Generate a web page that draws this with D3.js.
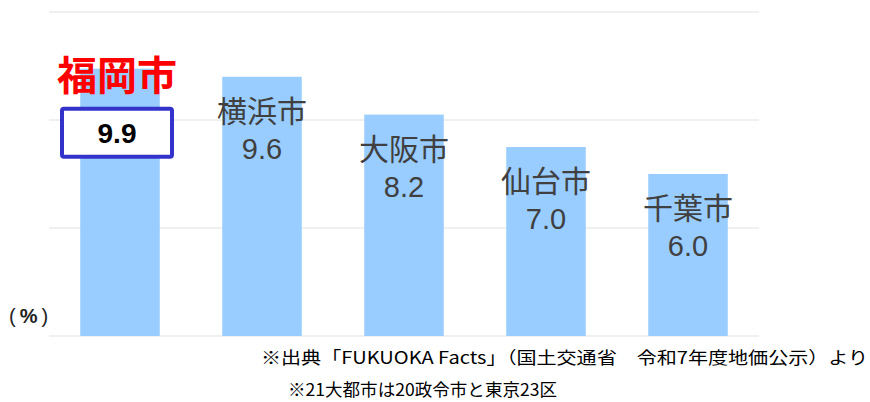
<!DOCTYPE html>
<html>
<head>
<meta charset="utf-8">
<script src="https://cdn.jsdelivr.net/npm/d3@7"></script>
<style>
  body { margin: 0; background: #fff; }
  text { font-family: "Noto Sans CJK JP", "Noto Sans", sans-serif; }
</style>
</head>
<body>
<script>
var w = 870,
  h = 402;

var cities = ['福岡市', '横浜市', '大阪市', '仙台市', '千葉市'];
var values = [9.9, 9.6, 8.2, 7.0, 6.0];
var gridTicks = [0, 4, 8, 12];
var notes = [
  '※出典「FUKUOKA Facts」（国土交通省　令和7年度地価公示）より',
  '※21大都市は20政令市と東京23区'
];

var svg = d3.select('body').append('svg')
  .attr('width', w)
  .attr('height', h);

var x = d3.scaleBand()
  .domain(cities)
  .range([49, 759])
  .paddingInner(0.44)
  .paddingOuter(0.22);

var y = d3.scaleLinear()
  .domain([0, 12])
  .range([336, 12]);

// gridlines
svg.selectAll('line.grid')
  .data(gridTicks)
  .enter()
  .append('line')
  .attr('class', 'grid')
  .attr('x1', 49)
  .attr('x2', 759)
  .attr('y1', function (d) { return y(d); })
  .attr('y2', function (d) { return y(d); })
  .attr('stroke', '#ebebeb')
  .attr('stroke-width', 1.5);

// bars
svg.selectAll('rect.bar')
  .data(values)
  .enter()
  .append('rect')
  .attr('class', 'bar')
  .attr('x', function (d, i) { return x(cities[i]); })
  .attr('y', function (d) { return y(d); })
  .attr('width', x.bandwidth())
  .attr('height', function (d) { return y(0) - y(d); })
  .attr('fill', '#99ccff');

// labels for the other cities
var others = cities.slice(1);
var labels = svg.selectAll('g.lab')
  .data(others)
  .enter()
  .append('g')
  .attr('class', 'lab')
  .attr('transform', function (d, i) {
    return 'translate(' + (x(d) + x.bandwidth() / 2) + ',' + y(values[i + 1]) + ')';
  });

labels.append('text')
  .attr('text-anchor', 'middle')
  .attr('y', 45)
  .attr('font-size', 30)
  .attr('fill', '#404040')
  .text(function (d) { return d; });

labels.append('text')
  .attr('text-anchor', 'middle')
  .attr('y', 82)
  .attr('font-size', 29)
  .attr('fill', '#404040')
  .style('font-family', 'Arial, "Liberation Sans", sans-serif')
  .text(function (d, i) { return values[i + 1].toFixed(1); });

// highlighted Fukuoka
var cx = x(cities[0]) + x.bandwidth() / 2 - 3;
var fy = y(values[0]);

svg.append('text')
  .attr('x', cx)
  .attr('y', fy + 21)
  .attr('text-anchor', 'middle')
  .attr('font-size', 40)
  .attr('font-weight', 'bold')
  .attr('fill', '#ff0000')
  .text(cities[0]);

svg.append('rect')
  .attr('x', cx - 55)
  .attr('y', fy + 40)
  .attr('width', 110)
  .attr('height', 48)
  .attr('rx', 2)
  .attr('fill', '#fff')
  .attr('stroke', '#3333cc')
  .attr('stroke-width', 4);

svg.append('text')
  .attr('x', cx)
  .attr('y', fy + 74)
  .attr('text-anchor', 'middle')
  .attr('font-size', 28)
  .attr('font-weight', 'bold')
  .attr('fill', '#000')
  .style('font-family', 'Arial, "Liberation Sans", sans-serif')
  .text(values[0].toFixed(1));

// unit
var unit = svg.append('text')
  .attr('x', 9)
  .attr('y', 323)
  .attr('font-size', 20)
  .attr('fill', '#222')
  .style('font-family', 'Arial, "Liberation Sans", sans-serif');
unit.append('tspan').text('(');
unit.append('tspan').attr('dx', 4).attr('font-weight', 'bold').text('%');
unit.append('tspan').attr('dx', 4).text(')');

// footnotes
svg.append('text')
  .attr('x', 261)
  .attr('y', 364)
  .attr('font-size', 17)
  .attr('fill', '#000')
  .attr('textLength', 607)
  .attr('lengthAdjust', 'spacingAndGlyphs')
  .text(notes[0]);

svg.append('text')
  .attr('x', 288)
  .attr('y', 396)
  .attr('font-size', 17)
  .attr('fill', '#000')
  .attr('textLength', 269)
  .attr('lengthAdjust', 'spacingAndGlyphs')
  .text(notes[1]);
</script>
</body>
</html>
